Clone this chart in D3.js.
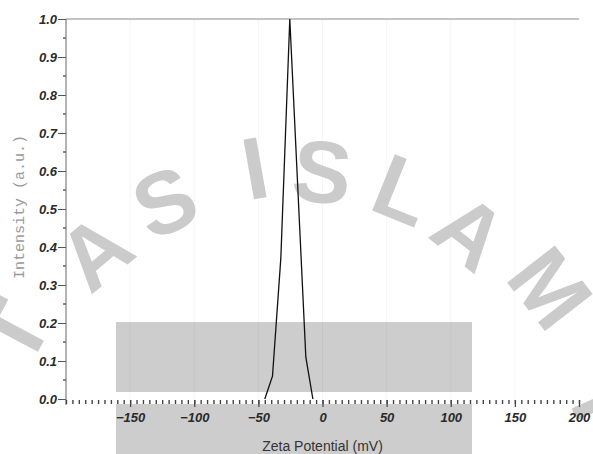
<!DOCTYPE html>
<html>
<head>
<meta charset="utf-8">
<script src="https://cdn.jsdelivr.net/npm/d3@7"></script>
<style>
  body { margin: 0; background: #fff; }
  svg { display: block; }
  .tick-label { font-family: "Liberation Sans", Arial, sans-serif; font-weight: bold; font-style: italic; font-size: 13px; fill: #2a2a2a; }
  .wm { font-family: "Liberation Sans", Arial, sans-serif; font-weight: bold; font-size: 88px; fill: #cbcbcb; }
</style>
</head>
<body>
<div id="viz-chart"></div>
<script>
// distribution
const zeta = [-45, -39, -32.5, -25.5, -13, -7.5];
const intensity = [0, 0.06, 0.37, 1.0, 0.11, 0];

const xMajor = [-150, -100, -50, 0, 50, 100, 150, 200];
const yMajor = [0, 0.1, 0.2, 0.3, 0.4, 0.5, 0.6, 0.7, 0.8, 0.9, 1.0];

// watermark letters (scan overlay)
const wmLetters = ["T", "A", "S", "I", "S", "L", "A", "M", "I"];
const wmPos = [[14, 332, -62], [95, 252, -40], [165, 202, -24], [255, 168, -10], [322, 172, 6],
  [403, 190, 22], [470, 232, 38], [550, 288, 52], [602, 402, 66]];

const width = 593, height = 454;
const margin = { top: 19, right: 14, bottom: 55, left: 66 };

const svg = d3.select("#viz-chart")
  .append("svg")
  .attr("width", width)
  .attr("height", height);

const x = d3.scaleLinear().domain([-200, 200]).range([margin.left, width - margin.right]);
const y = d3.scaleLinear().domain([0, 1]).range([height - margin.bottom, margin.top]);

// gray boxes from the scan
svg.append("rect").attr("x", 116).attr("y", 322).attr("width", 356).attr("height", 70).style("fill", "#cdcdcd");
svg.append("rect").attr("x", 116).attr("y", 404).attr("width", 356).attr("height", 50).style("fill", "#cdcdcd");

// faint grid
svg.selectAll("line.grid")
  .data(xMajor.slice(0, -1))
  .enter()
  .append("line")
  .attr("x1", (d) => x(d)).attr("x2", (d) => x(d))
  .attr("y1", y(1)).attr("y2", y(0))
  .style("stroke", "#000").style("stroke-opacity", 0.04);

// watermark
svg.selectAll("text.wm")
  .data(wmLetters)
  .enter()
  .append("text")
  .attr("class", "wm")
  .attr("text-anchor", "middle")
  .attr("dominant-baseline", "central")
  .attr("transform", (d, i) => `translate(${wmPos[i][0]},${wmPos[i][1]}) rotate(${wmPos[i][2]})`)
  .text((d) => d);

// top frame line
svg.append("line")
  .attr("x1", x(-200)).attr("x2", x(200))
  .attr("y1", y(1)).attr("y2", y(1))
  .style("stroke", "#8a8a8a").style("stroke-width", 1.2);

// y axis
const yAxis = svg.append("g").attr("transform", `translate(${x(-200)},0)`);
yAxis.call(d3.axisLeft(y).tickValues(yMajor).tickSize(8).tickPadding(1).tickFormat(d3.format(".1f")));
yAxis.select(".domain").remove();
yAxis.selectAll(".tick line").style("stroke", "#555");
yAxis.selectAll(".tick text").attr("class", "tick-label");
yAxis.call((g) => g.selectAll(".minor")
  .data(d3.range(0.05, 1, 0.1))
  .enter()
  .append("line")
  .attr("class", "minor")
  .attr("x1", -3).attr("x2", 0)
  .attr("y1", (d) => y(d)).attr("y2", (d) => y(d))
  .style("stroke", "#555").style("stroke-width", 1.4));
svg.append("line")
  .attr("x1", x(-200)).attr("x2", x(-200))
  .attr("y1", y(1)).attr("y2", y(0) + 6)
  .style("stroke", "#666");

// x axis
const xAxis = svg.append("g").attr("transform", `translate(0,${y(0) + 1})`);
xAxis.call(d3.axisBottom(x).tickValues(d3.range(-200, 201, 5)).tickSize(4).tickFormat(""));
xAxis.select(".domain").remove();
xAxis.selectAll(".tick line").style("stroke", "#444").style("stroke-width", 1.4);
const xLab = svg.append("g").attr("transform", `translate(0,${y(0) + 1})`);
xLab.call(d3.axisBottom(x).tickValues(xMajor).tickSize(7).tickPadding(6).tickFormat(d3.format("d")));
xLab.select(".domain").remove();
xLab.selectAll(".tick line").style("stroke", "#444").style("stroke-width", 1.2);
xLab.selectAll(".tick text").attr("class", "tick-label");

// axis titles
svg.append("text")
  .attr("x", x(0)).attr("y", 451)
  .attr("text-anchor", "middle")
  .style("font-family", "'Liberation Sans', Arial, sans-serif")
  .style("font-size", "14px")
  .style("fill", "#333")
  .text("Zeta Potential (mV)");

svg.append("text")
  .attr("transform", "translate(24,207) rotate(-90)")
  .attr("text-anchor", "middle")
  .style("font-family", "'Liberation Mono', 'DejaVu Sans Mono', monospace")
  .style("font-size", "15px")
  .style("fill", "#9a9a9a")
  .text("Intensity (a.u.)");

// distribution curve
const line = d3.line()
  .x((d, i) => x(zeta[i]))
  .y((d) => y(d));

svg.append("path")
  .datum(intensity)
  .attr("d", line)
  .style("fill", "none")
  .style("stroke", "#111")
  .style("stroke-width", 1.3);
</script>
</body>
</html>
